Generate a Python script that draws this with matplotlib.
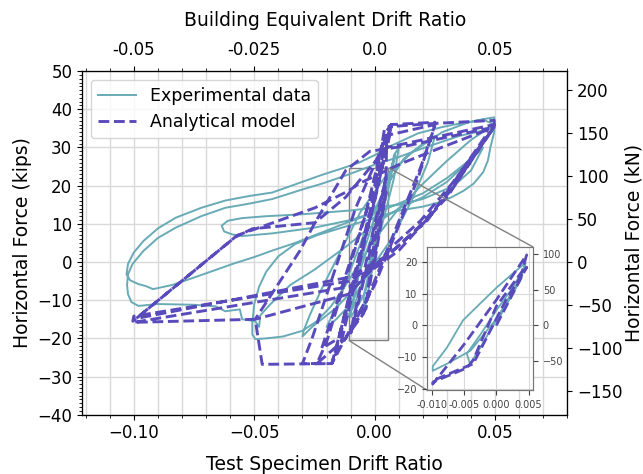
import matplotlib
matplotlib.use('Agg')
import matplotlib.pyplot as plt
import matplotlib.ticker as mtick
from mpl_toolkits.axes_grid1.inset_locator import mark_inset
import numpy as np

#-------------------------------------------------------------------------------
# data (drift ratio, kips)
KIP_TO_KN = 4.448

# experimental record, cycle by cycle
exp_drift_small = [0.0, 0.002, 0.0037, 0.0045, 0.0037, 0.0017, -0.0005, -0.0025, -0.0041, -0.0046, -0.0025,
                   0.0001, 0.0026, 0.0045, 0.003, 0.0, -0.004, -0.0075, -0.0099, -0.0099, -0.0077, -0.0052,
                   -0.0025, 0.0001, 0.0026, 0.0045]
exp_force_small = [0, 9, 14, 19.6, 14.2, 6.9, 0, -7.1, -12.2, -9, -3,
                   5, 12, 19, 12, 2, -8, -12, -14.4, -13, -7.1, 1.5,
                   6.9, 12, 16.4, 19.6]

exp_drift_mid = [0.007, 0.0085, 0.006, 0.002, -0.004, -0.009, -0.013, -0.011, -0.006, 0.0, 0.006,
                 0.008, 0.010, 0.008, 0.004, -0.002, -0.010, -0.016, -0.020, -0.016, -0.010, -0.004,
                 0.004, 0.012, 0.020, 0.025, 0.022, 0.016, 0.008, -0.004, -0.016, -0.026, -0.030, -0.0295,
                 -0.027, -0.022, -0.014, -0.006, 0.004, 0.016, 0.028, 0.039, 0.045, 0.0496]
exp_force_mid = [25, 28, 20, 10, -4, -12, -16, -12, -2, 9, 21,
                 28, 30, 22, 12, -2, -11, -15, -17, -12, -2, 8,
                 19, 27, 31, 33, 26, 17, 7, -4, -12, -17, -19.5, -18,
                 -14, -7, 3, 13, 22, 29, 34, 36.6, 37.4, 37.9]

exp_drift_c5 = [0.0496, 0.048, 0.047, 0.045, 0.041, 0.037, 0.032, 0.0277, 0.020, 0.010, 0.0, -0.0136,
                -0.024, -0.033, -0.040, -0.045, -0.048, -0.050, -0.0508, -0.0508, -0.0495, -0.045, -0.038,
                -0.030, -0.024, -0.018, -0.012, -0.006, 0.0, 0.010, 0.020, 0.030, 0.040, 0.0496]
exp_force_c5 = [34, 30, 26.6, 23.5, 20.5, 18.7, 17, 15.8, 14.5, 13.5, 11.5, 9,
                7, 4.7, 1.5, -2.5, -6.5, -11, -16, -19, -20.2, -20, -19.5,
                -18, -15.5, -11.5, -6, 0, 6, 14, 20.5, 26.5, 32, 36]

exp_drift_c10a = [0.045, 0.039, 0.033, 0.0277, 0.018, 0.007, 0.0, -0.0066, -0.0136, -0.022, -0.030, -0.0425,
                  -0.052, -0.062, -0.072, -0.0826, -0.090, -0.096, -0.100, -0.1024, -0.103, -0.1015, -0.098,
                  -0.095, -0.092, -0.084, -0.0756, -0.067, -0.059, -0.050, -0.0425, -0.033, -0.025, -0.0095,
                  0.005, 0.020, 0.030, 0.038, 0.045, 0.0496]
exp_force_c10a = [37.3, 36.6, 36, 35.3, 33.7, 30.5, 28, 26, 24.5, 22.8, 21, 18.2,
                  17.3, 16.1, 14.2, 11.6, 8.8, 5.5, 2.5, -0.5, -3.2, -4.8, -5.8,
                  -6.3, -7.1, -6, -4.2, -2.3, -0.5, 1.3, 3, 5, 7, 10.8,
                  14, 18, 22, 26, 31, 35]

exp_drift_c10b = [0.044, 0.035, 0.020, 0.010, 0.0, -0.0136, -0.022, -0.030, -0.0425, -0.052, -0.062, -0.072,
                  -0.0826, -0.090, -0.096, -0.1005, -0.1024, -0.1028, -0.1024, -0.101, -0.098, -0.090, -0.075,
                  -0.066, -0.062, -0.056, -0.055, -0.0496, -0.048, -0.0475, -0.044, -0.040, -0.035, -0.025,
                  -0.012, 0.0, 0.010, 0.020, 0.030, 0.040, 0.045]
exp_force_c10b = [34.3, 33, 29.8, 27.5, 25.5, 22.3, 20.5, 19, 16.5, 15.3, 14.2, 12,
                  9, 6.3, 2.9, -0.5, -3.2, -6, -8.4, -10.5, -11.5, -11, -11.2,
                  -11.6, -12.9, -12.4, -15, -15.5, -17, -14, -11.5, -9, -6, -2,
                  4, 10, 14, 17, 21, 27, 30]

exp_drift_hook = [0.040, 0.033, 0.020, 0.010, -0.010, -0.030, -0.045, -0.055, -0.061, -0.0635, -0.0625,
                  -0.059, -0.055, -0.0425, -0.025, -0.010, 0.0]
exp_force_hook = [24, 20, 16.5, 15, 13.5, 12.5, 12, 11.5, 10.8, 9.5, 8,
                  7.2, 6.8, 7.5, 9, 11, 13]

# analytical model, cycle by cycle
model_drift_small = [0.0, 0.0047, 0.0015, -0.0036, -0.0052, -0.0099, -0.0099, -0.005, 0.0, 0.0047, 0.004,
                     0.0, -0.0036, -0.0046, -0.0099]
model_force_small = [0, 18.3, 8, -12.2, -13.5, -17.5, -18.6, -6, 8, 22.2, 17,
                     6, -11, -13.5, -18]

model_drift_c1 = [-0.005, 0.0, 0.0047, 0.005, 0.007, 0.0055, -0.012, -0.0178, -0.0135, 0.002, 0.0045, 0.007,
                  0.005, -0.015, -0.022, -0.018, 0.0, 0.004, 0.007, 0.025]
model_force_c1 = [-4, 10, 22, 34, 36, 31, -14, -26.6, -20, 22, 34, 36,
                  31, -20, -22.6, -15, 20, 34.6, 36, 36.6]

model_drift_c1b = [0.0245, 0.018, 0.0, -0.012, -0.024, -0.020, -0.004, 0.004, 0.025]
model_force_c1b = [35, 22, -6, -20, -26.6, -21, 12, 33, 36]

model_drift_c2 = [0.0248, 0.019, -0.002, -0.0178, -0.030, -0.026, -0.008, 0.003, 0.007, 0.025, 0.0496]
model_force_c2 = [35.3, 24.7, -8, -26.6, -26.6, -20, 14, 30, 35.5, 36.3, 37.1]

model_drift_c3 = [0.0496, 0.032, 0.019, 0.0083, -0.0107, -0.0496, -0.031, -0.0248, -0.012, -0.002, 0.014,
                  0.047]
model_force_c3 = [35.3, 20.5, 10.8, 4.7, -8.4, -15, 3, 10.3, 24, 29, 30.5,
                  35]

model_drift_c4 = [0.046, 0.022, 0.004, -0.0107, -0.100, -0.1004, -0.057, -0.048, -0.0248, -0.0107, -0.0066,
                  0.011, 0.0277, 0.0496]
model_force_c4 = [33, 11, 1, -5, -14.2, -15.5, 7, 9, 14.2, 18.7, 20.5,
                  25.8, 30, 35.3]

model_drift_c5 = [0.048, 0.032, 0.018, 0.006, -0.0107, -0.099, -0.058, -0.0508, -0.0248, -0.012, 0.005, 0.0496]
model_force_c5 = [34, 19, 9, 2, -4, -14.8, 6.5, 8.7, 10.3, 17, 30, 36]

model_drift_c6 = [0.047, 0.030, 0.010, -0.0107, -0.100, -0.0496, -0.0467, -0.0178, -0.010, 0.0, 0.007]
model_force_c6 = [33, 17, 3, -6.5, -15.8, -15, -26.8, -26.6, -8, 16, 36]

bottom_ticks = [-0.10, -0.05, 0.0, 0.05]
top_labels = ['-0.05', '-0.025', '0.0', '0.05']
inset_xticks = [-0.010, -0.005, 0.0, 0.005]
inset_yticks = [-20, -10, 0, 10, 20]
inset_kn_ticks = [-50, 0, 50, 100]

EXP_COLOR = '#68abb6'
MODEL_COLOR = '#5a4bbd'
GRID_COLOR = '#d9d9d9'

exp_drift = np.concatenate([exp_drift_small, exp_drift_mid, exp_drift_c5, exp_drift_c10a,
                            exp_drift_c10b, exp_drift_hook])
exp_force = np.concatenate([exp_force_small, exp_force_mid, exp_force_c5, exp_force_c10a,
                            exp_force_c10b, exp_force_hook])
model_drift = np.concatenate([model_drift_small, model_drift_c1, model_drift_c1b, model_drift_c2,
                              model_drift_c3, model_drift_c4, model_drift_c5, model_drift_c6])
model_force = np.concatenate([model_force_small, model_force_c1, model_force_c1b, model_force_c2,
                              model_force_c3, model_force_c4, model_force_c5, model_force_c6])

#-------------------------------------------------------------------------------
fig = plt.figure(figsize=(6.43, 4.74), dpi=100)
ax = fig.add_axes([0.1275, 0.125, 0.755, 0.725])

XLIM = (-0.1215, 0.08)
YLIM = (-40, 50)

ax.plot(exp_drift, exp_force, color=EXP_COLOR, lw=1.4, label='Experimental data')
ax.plot(model_drift, model_force, '--', color=MODEL_COLOR, lw=2.1, label='Analytical model')
ax.set_xlim(*XLIM)
ax.set_ylim(*YLIM)
ax.set_xticks(bottom_ticks)
ax.xaxis.set_minor_locator(mtick.MultipleLocator(0.01))
ax.yaxis.set_major_locator(mtick.MultipleLocator(10))
ax.yaxis.set_minor_locator(mtick.MultipleLocator(1))
ax.grid(which='both', axis='x', color=GRID_COLOR, lw=1)
ax.grid(which='major', axis='y', color=GRID_COLOR, lw=1)
ax.set_axisbelow(True)
ax.tick_params(labelsize=12)
ax.set_xlabel('Test Specimen Drift Ratio', fontsize=13.5, labelpad=9)
ax.set_ylabel('Horizontal Force (kips)', fontsize=13.5)
ax.legend(loc='upper left', fontsize=12.5, handlelength=2.2)

# top axis: building equivalent drift
axt = ax.twiny()
axt.set_xlim(*XLIM)
axt.set_xticks(bottom_ticks)
axt.set_xticklabels(top_labels)
axt.xaxis.set_minor_locator(mtick.MultipleLocator(0.01))
axt.tick_params(labelsize=12, pad=5)
axt.set_xlabel('Building Equivalent Drift Ratio', fontsize=13.5, labelpad=11)

# right axis: kN
axr = ax.twinx()
axr.set_ylim(YLIM[0] * KIP_TO_KN, YLIM[1] * KIP_TO_KN)
axr.yaxis.set_major_locator(mtick.MultipleLocator(50))
axr.tick_params(labelsize=12)
axr.set_ylabel('Horizontal Force (kN)', fontsize=13.5, labelpad=1)

# zoomed inset, first small cycles only
axins = fig.add_axes([0.664, 0.177, 0.165, 0.302])
axins.plot(exp_drift_small, exp_force_small, color=EXP_COLOR, lw=1.3)
axins.plot(model_drift_small, model_force_small, '--', color=MODEL_COLOR, lw=2)
IXLIM = (-0.0108, 0.0057)
IYLIM = (-20.5, 24.7)
axins.set_xlim(*IXLIM)
axins.set_ylim(*IYLIM)
axins.set_xticks(inset_xticks)
axins.xaxis.set_major_formatter(mtick.FormatStrFormatter('%.3f'))
axins.set_yticks(inset_yticks)
axins.grid(color=GRID_COLOR, lw=0.8)
axins.tick_params(labelsize=7, colors='#444444')
axins_r = axins.twinx()
axins_r.set_ylim(IYLIM[0] * KIP_TO_KN, IYLIM[1] * KIP_TO_KN)
axins_r.set_yticks(inset_kn_ticks)
axins_r.tick_params(labelsize=7, colors='#444444')
for a in (axins, axins_r):
    for s in a.spines.values():
        s.set_edgecolor('#777777')

mark_inset(ax, axins, loc1=1, loc2=3, fc='none', ec='0.5', lw=1)

fig.savefig('out.png', dpi=100)
